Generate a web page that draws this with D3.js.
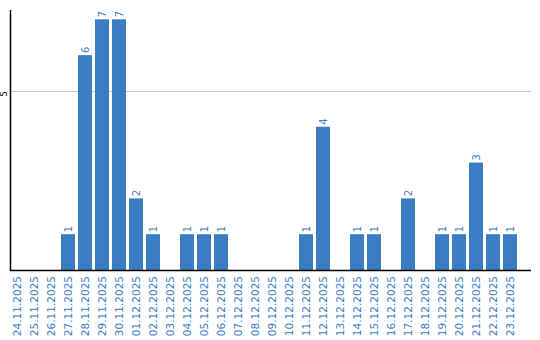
<!DOCTYPE html>
<html><head><meta charset="utf-8">
<script src="https://cdn.jsdelivr.net/npm/d3@7"></script>
<style>body{margin:0;background:#fff}svg{display:block}</style>
</head><body>
<svg id="c" width="540" height="340"></svg>
<script>
const categories = ["24.11.2025","25.11.2025","26.11.2025","27.11.2025","28.11.2025","29.11.2025","30.11.2025","01.12.2025","02.12.2025","03.12.2025","04.12.2025","05.12.2025","06.12.2025","07.12.2025","08.12.2025","09.12.2025","10.12.2025","11.12.2025","12.12.2025","13.12.2025","14.12.2025","15.12.2025","16.12.2025","17.12.2025","18.12.2025","19.12.2025","20.12.2025","21.12.2025","22.12.2025","23.12.2025"];
const values = [0,0,0,1,6,7,7,2,1,0,1,1,1,0,0,0,0,1,4,0,1,1,0,2,0,1,1,3,1,1];
const yTicks = [5];

(function(){
const svg = d3.select("#c");
const mLeft = 10, mTop = 10, mBottom = 270, axisRight = 531;
const x = d3.scaleBand().domain(categories).range([mLeft, mLeft + categories.length*17 - 3]).paddingInner(3/17).paddingOuter(0);
const y = d3.scaleLinear().domain([0, 7.26]).range([mBottom, mTop]);
const blue = "#3b7dc3";

svg.append("g").selectAll("line").data(yTicks).join("line")
  .attr("x1", mLeft).attr("x2", axisRight)
  .attr("y1", d => Math.round(y(d)) + 0.5).attr("y2", d => Math.round(y(d)) + 0.5)
  .attr("stroke", "#c8c8c8").attr("stroke-width", 1);

svg.append("g").selectAll("rect").data(values).join("rect")
  .attr("x", (d,i) => x(categories[i]))
  .attr("width", x.bandwidth())
  .attr("y", d => y(d))
  .attr("height", d => mBottom - y(d))
  .attr("fill", blue);

svg.append("g").selectAll("text").data(values.map((v,i)=>({v,i})).filter(d=>d.v>0)).join("text")
  .attr("transform", d => `translate(${x(categories[d.i]) + x.bandwidth()/2 + 3.5},${y(d.v) - 2}) rotate(-90)`)
  .attr("font-family", "DejaVu Sans, Verdana, sans-serif").attr("font-size", "10px")
  .attr("fill", blue).text(d => d.v);

svg.append("line").attr("x1", mLeft + 0.5).attr("x2", mLeft + 0.5).attr("y1", mTop).attr("y2", mBottom + 1)
  .attr("stroke", "#000").attr("stroke-width", 1.5);
svg.append("line").attr("x1", mLeft).attr("x2", axisRight).attr("y1", mBottom + 0.5).attr("y2", mBottom + 0.5)
  .attr("stroke", "#000").attr("stroke-width", 1.5);

svg.append("g").selectAll("text").data(yTicks).join("text")
  .attr("transform", d => `translate(7,${y(d) + 3}) rotate(-90)`)
  .attr("text-anchor", "middle")
  .attr("font-family", "DejaVu Sans, Verdana, sans-serif").attr("font-size", "8px")
  .attr("fill", "#000").text(d => d);

svg.append("g").selectAll("text").data(categories).join("text")
  .attr("transform", d => `translate(${x(d) + x.bandwidth()/2 + 4},276) rotate(-90)`)
  .attr("text-anchor", "end")
  .attr("font-family", "DejaVu Sans, Verdana, sans-serif").attr("font-size", "10.5px")
  .attr("fill", blue).text(d => d);
})();
</script>
</body></html>
